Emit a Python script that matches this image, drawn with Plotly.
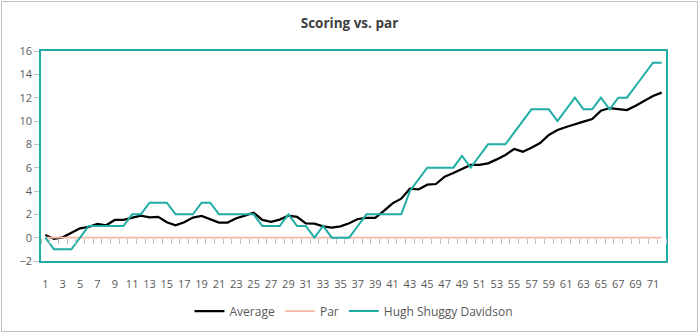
import plotly.graph_objects as go

# Hole-by-hole cumulative scoring relative to par
holes = list(range(1, 73))

average = [
    0.23, -0.11, 0.03, 0.43, 0.80, 0.92, 1.17, 1.06, 1.52, 1.52,
    1.69, 1.89, 1.75, 1.78, 1.32, 1.06, 1.32, 1.72, 1.86, 1.57,
    1.29, 1.29, 1.66, 1.89, 2.14, 1.52, 1.35, 1.55, 1.89, 1.78,
    1.23, 1.20, 0.97, 0.86, 0.97, 1.23, 1.60, 1.69, 1.69, 2.29,
    2.94, 3.34, 4.20, 4.14, 4.54, 4.60, 5.23, 5.55, 5.88, 6.23,
    6.23, 6.37, 6.71, 7.09, 7.60, 7.37, 7.71, 8.11, 8.80, 9.23,
    9.49, 9.74, 9.94, 10.17, 10.88, 11.11, 11.00, 10.94, 11.31, 11.71,
    12.14, 12.43,
]

par = [
    0, 0, 0, 0, 0, 0, 0, 0, 0, 0, 0, 0, 0, 0, 0, 0, 0, 0,
    0, 0, 0, 0, 0, 0, 0, 0, 0, 0, 0, 0, 0, 0, 0, 0, 0, 0,
    0, 0, 0, 0, 0, 0, 0, 0, 0, 0, 0, 0, 0, 0, 0, 0, 0, 0,
    0, 0, 0, 0, 0, 0, 0, 0, 0, 0, 0, 0, 0, 0, 0, 0, 0, 0,
]

hugh = [
    0, -1, -1, -1, 0, 1, 1, 1, 1, 1,
    2, 2, 3, 3, 3, 2, 2, 2, 3, 3,
    2, 2, 2, 2, 2, 1, 1, 1, 2, 1,
    1, 0, 1, 0, 0, 0, 1, 2, 2, 2,
    2, 2, 4, 5, 6, 6, 6, 6, 7, 6,
    7, 8, 8, 8, 9, 10, 11, 11, 11, 10,
    11, 12, 11, 11, 12, 11, 12, 12, 13, 14,
    15, 15,
]

x_tick_values = list(range(1, 72, 2))
x_tick_labels = [str(v) for v in x_tick_values]
y_min, y_max, y_step = -2, 16, 2

TEAL = "#1FADA5"
SALMON = "#F5B7A6"
TEXT = "#595959"
TICK = "#BFBFBF"
FONT = "Segoe UI, Open Sans, sans-serif"

W, H = 699, 333
ML, MR, MT, MB = 41, 33, 51, 72
plot_w = W - ML - MR
plot_h = H - MT - MB

fig = go.Figure()

fig.add_trace(go.Scatter(
    x=holes, y=average, name="Average", mode="lines",
    line=dict(color="#000000", width=2.25),
    xaxis="x", yaxis="y",
))
fig.add_trace(go.Scatter(
    x=holes, y=par, name="Par", mode="lines",
    line=dict(color=SALMON, width=1.75),
    xaxis="x2", yaxis="y",
))
fig.add_trace(go.Scatter(
    x=holes, y=hugh, name="Hugh Shuggy Davidson", mode="lines",
    line=dict(color=TEAL, width=2),
    xaxis="x2", yaxis="y",
))

x_range = [holes[0] - 0.5, holes[-1] + 0.5]
boundaries = [h - 0.5 for h in holes] + [holes[-1] + 0.5]
zero_pos = (0 - y_min) / (y_max - y_min)

# outer chart frame
fig.add_shape(
    type="rect", xref="paper", yref="paper", layer="below",
    x0=(1.5 - ML) / plot_w, x1=(W - 1.5 - ML) / plot_w,
    y0=-(H - 1.5 - MT - plot_h) / plot_h, y1=(MT - 1.5) / plot_h + 1,
    line=dict(color="#BFBFBF", width=1),
)

fig.update_layout(
    width=W, height=H,
    margin=dict(l=ML, r=MR, t=MT, b=MB, autoexpand=False),
    paper_bgcolor="white", plot_bgcolor="white",
    font=dict(family=FONT, color=TEXT, size=11),
    title=dict(
        text="<b>Scoring vs. par</b>",
        x=0.5, xanchor="center", y=1 - 23 / H, yanchor="middle",
        font=dict(family=FONT, size=13.5, color="#404040"),
    ),
    showlegend=True,
    legend=dict(
        orientation="h", x=0.5, xanchor="center",
        y=-(311 - MT - plot_h) / plot_h, yanchor="middle",
        font=dict(family=FONT, size=12, color=TEXT),
        bgcolor="rgba(0,0,0,0)", itemwidth=30,
    ),
    xaxis=dict(
        range=x_range, tickmode="array",
        tickvals=x_tick_values, ticktext=x_tick_labels,
        ticks="", showgrid=False, zeroline=False, color=TEXT,
        showline=True, linecolor=TEAL, linewidth=1.5, mirror=True,
        ticklabelstandoff=12,
        tickfont=dict(size=11, color=TEXT),
    ),
    xaxis2=dict(
        range=x_range, overlaying="x", anchor="free", position=zero_pos,
        side="bottom", tickmode="array", tickvals=boundaries,
        ticks="outside", ticklen=5, tickcolor=TICK, tickwidth=1,
        showticklabels=False, showgrid=False, zeroline=False, showline=False,
    ),
    yaxis=dict(
        range=[y_min, y_max], dtick=y_step, tick0=0, color=TEXT,
        ticks="outside", ticklen=5, tickcolor=TICK,
        showgrid=False, zeroline=False,
        showline=True, linecolor=TEAL, linewidth=1.5, mirror=True,
        tickfont=dict(size=11, color=TEXT),
    ),
)

fig.write_html("out.html")
